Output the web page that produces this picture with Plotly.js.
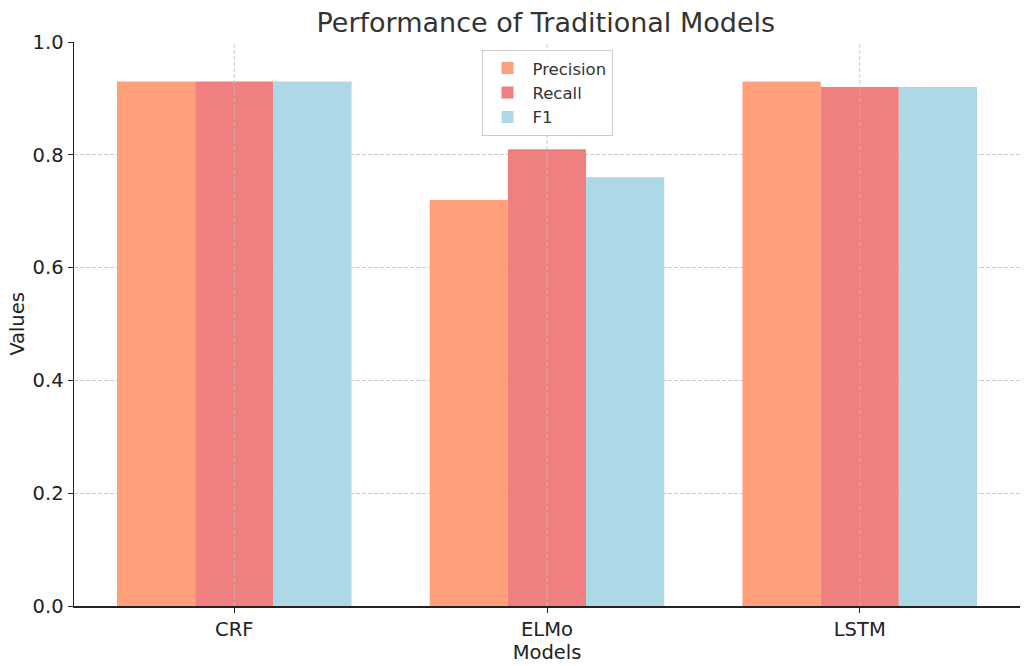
<!DOCTYPE html>
<html>
<head>
<meta charset="utf-8">
<script src="https://cdn.plot.ly/plotly-3.0.1.min.js"></script>
<style>html,body{margin:0;padding:0;background:#fff;}#chart{width:1024px;height:666px;}</style>
</head>
<body>
<div id="chart"></div>
<script>
const models = ["CRF", "ELMo", "LSTM"];
const precision = [0.93, 0.72, 0.93];
const recall = [0.93, 0.81, 0.92];
const f1 = [0.93, 0.76, 0.92];
const seriesNames = ["Precision", "Recall", "F1"];
const seriesColors = ["#FFA07A", "#F08080", "#ADD8E6"];
const yTicks = [0, 0.2, 0.4, 0.6, 0.8, 1.0];

const xIdx = models.map((m, i) => i);
const seriesValues = [precision, recall, f1];
const traces = seriesValues.map((vals, k) => ({
  type: "bar",
  name: seriesNames[k],
  x: xIdx,
  y: vals,
  marker: {color: seriesColors[k], line: {width: 0}},
  hoverinfo: "y+name"
}));

const gridColor = "rgba(190,190,190,0.8)";
const shapes = xIdx.map(i => ({
  type: "line", xref: "x", yref: "paper", x0: i, x1: i, y0: 0, y1: 1,
  layer: "above", line: {color: gridColor, width: 1, dash: "4px,2px"}
}));

const layout = {
  width: 1024, height: 666,
  paper_bgcolor: "#fff", plot_bgcolor: "#fff",
  font: {family: "DejaVu Sans, sans-serif", color: "#222", size: 19},
  margin: {l: 74, r: 4, t: 42, b: 60},
  title: {text: "Performance of Traditional Models", x: 0.533, xanchor: "center", y: 0.966, yanchor: "middle",
          font: {size: 27, color: "#333"}},
  barmode: "group", bargap: 0.25, bargroupgap: 0,
  showlegend: true,
  legend: {x: 0.5, xanchor: "center", y: 0.986, yanchor: "top",
           bgcolor: "rgba(255,255,255,0.85)", bordercolor: "#cccccc", borderwidth: 1,
           font: {size: 16.5, color: "#333"}, itemwidth: 40, tracegroupgap: 2},
  xaxis: {
    range: [-0.5125, 2.5125],
    tickmode: "array", tickvals: xIdx, ticktext: models,
    showgrid: false, zeroline: false,
    showline: true, linecolor: "#222", linewidth: 1.5,
    ticks: "outside", ticklen: 5, tickcolor: "#222",
    tickfont: {size: 19.5, color: "#222"},
    title: {text: "Models", font: {size: 19.5, color: "#222"}, standoff: 0}
  },
  yaxis: {
    range: [0, 1.0],
    tickmode: "array", tickvals: yTicks, ticktext: yTicks.map(v => v.toFixed(1)),
    showgrid: true, gridcolor: gridColor, griddash: "4px,2px", gridwidth: 1,
    zeroline: false,
    showline: true, linecolor: "#222", linewidth: 1.5,
    ticks: "outside", ticklen: 5, tickcolor: "#222",
    tickfont: {size: 19.5, color: "#222"},
    title: {text: "Values", font: {size: 19.5, color: "#222"}, standoff: 3}
  },
  shapes: shapes
};

Plotly.newPlot("chart", traces, layout, {displayModeBar: false, staticPlot: true});
</script>
</body>
</html>
